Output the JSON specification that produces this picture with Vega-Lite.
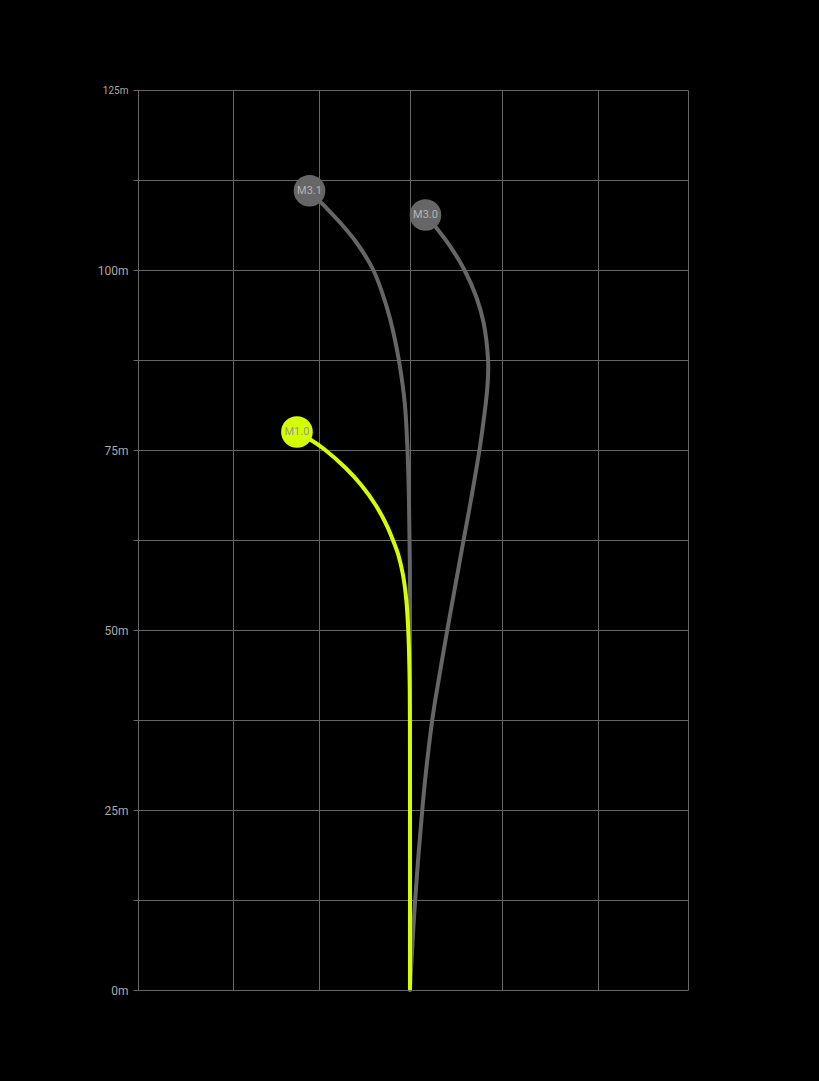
{
  "$schema": "https://vega.github.io/schema/vega-lite/v6.json",
  "width": 550,
  "height": 900,
  "autosize": {"type": "none"},
  "padding": {"left": 138, "top": 90, "right": 131, "bottom": 91},
  "background": "#000000",
  "config": {"view": {"stroke": null}},
  "datasets": {
    "paths": [
      {"club": "M3.1", "x": 0, "y": 0},
      {"club": "M3.1", "x": 0, "y": 50},
      {"club": "M3.1", "x": -0.002, "y": 59.72},
      {"club": "M3.1", "x": -0.011, "y": 68.06},
      {"club": "M3.1", "x": -0.027, "y": 75},
      {"club": "M3.1", "x": -0.057, "y": 81.53},
      {"club": "M3.1", "x": -0.109, "y": 86.53},
      {"club": "M3.1", "x": -0.18, "y": 91.25},
      {"club": "M3.1", "x": -0.267, "y": 95.42},
      {"club": "M3.1", "x": -0.4, "y": 100},
      {"club": "M3.1", "x": -0.58, "y": 103.75},
      {"club": "M3.1", "x": -0.758, "y": 106.53},
      {"club": "M3.1", "x": -0.944, "y": 109.03},
      {"club": "M3.1", "x": -1.096, "y": 111.0},
      {"club": "M3.0", "x": 0, "y": 0},
      {"club": "M3.0", "x": 0.055, "y": 12.22},
      {"club": "M3.0", "x": 0.134, "y": 25},
      {"club": "M3.0", "x": 0.185, "y": 31.53},
      {"club": "M3.0", "x": 0.243, "y": 37.5},
      {"club": "M3.0", "x": 0.276, "y": 40.28},
      {"club": "M3.0", "x": 0.407, "y": 50},
      {"club": "M3.0", "x": 0.472, "y": 54.58},
      {"club": "M3.0", "x": 0.585, "y": 62.5},
      {"club": "M3.0", "x": 0.671, "y": 68.47},
      {"club": "M3.0", "x": 0.758, "y": 75},
      {"club": "M3.0", "x": 0.814, "y": 80.14},
      {"club": "M3.0", "x": 0.842, "y": 83.33},
      {"club": "M3.0", "x": 0.853, "y": 85.83},
      {"club": "M3.0", "x": 0.85, "y": 87.92},
      {"club": "M3.0", "x": 0.804, "y": 92.64},
      {"club": "M3.0", "x": 0.724, "y": 96.25},
      {"club": "M3.0", "x": 0.594, "y": 100},
      {"club": "M3.0", "x": 0.444, "y": 103.19},
      {"club": "M3.0", "x": 0.306, "y": 105.56},
      {"club": "M3.0", "x": 0.169, "y": 107.64},
      {"club": "M1.0", "x": 0, "y": 0},
      {"club": "M1.0", "x": 0, "y": 33.33},
      {"club": "M1.0", "x": -0.004, "y": 43.06},
      {"club": "M1.0", "x": -0.019, "y": 50},
      {"club": "M1.0", "x": -0.04, "y": 54.17},
      {"club": "M1.0", "x": -0.076, "y": 57.64},
      {"club": "M1.0", "x": -0.127, "y": 60.42},
      {"club": "M1.0", "x": -0.182, "y": 62.36},
      {"club": "M1.0", "x": -0.255, "y": 64.58},
      {"club": "M1.0", "x": -0.375, "y": 67.36},
      {"club": "M1.0", "x": -0.532, "y": 70.14},
      {"club": "M1.0", "x": -0.702, "y": 72.5},
      {"club": "M1.0", "x": -0.938, "y": 75.14},
      {"club": "M1.0", "x": -1.08, "y": 76.39},
      {"club": "M1.0", "x": -1.233, "y": 77.5}
    ],
    "heads": [
      {"club": "M3.1", "x": -1.096, "y": 111.0},
      {"club": "M3.0", "x": 0.169, "y": 107.64},
      {"club": "M1.0", "x": -1.233, "y": 77.5}
    ]
  },
  "layer": [
    {
      "data": {"name": "paths"},
      "transform": [{"filter": "datum.club !== 'M1.0'"}],
      "mark": {"type": "line", "interpolate": "catmull-rom", "strokeWidth": 4, "color": "#666666", "strokeCap": "round"},
      "encoding": {
        "x": {
          "field": "x", "type": "quantitative",
          "scale": {"domain": [-2.967, 3.033], "nice": false, "zero": false},
          "axis": {"values": [-2.967, -1.931, -0.993, 0, 1.004, 2.051, 3.033], "grid": true, "gridColor": "#666666", "gridWidth": 1, "labels": false, "ticks": false, "domain": false, "title": null}
        },
        "y": {
          "field": "y", "type": "quantitative",
          "scale": {"domain": [0, 125], "nice": false},
          "axis": {
            "values": [0, 12.5, 25, 37.5, 50, 62.5, 75, 87.5, 100, 112.5, 125],
            "grid": true, "gridColor": "#666666", "gridWidth": 1,
            "ticks": true, "tickColor": "#666666", "tickSize": 5, "tickWidth": 1,
            "domain": false, "title": null,
            "labelExpr": "datum.value % 25 === 0 ? datum.value + 'm' : ''",
            "labelColor": "#a8a8a8", "labelFont": "Roboto",
            "labelFontSize": {"condition": {"test": "datum.value === 125", "value": 10}, "value": 12},
            "labelPadding": 5
          }
        },
        "detail": {"field": "club"},
        "order": {"field": "y", "type": "quantitative"}
      }
    },
    {
      "data": {"name": "heads"},
      "transform": [{"filter": "datum.club !== 'M1.0'"}],
      "mark": {"type": "circle", "size": 1000, "opacity": 1, "color": "#666666"},
      "encoding": {
        "x": {"field": "x", "type": "quantitative"},
        "y": {"field": "y", "type": "quantitative"}
      }
    },
    {
      "data": {"name": "heads"},
      "transform": [{"filter": "datum.club !== 'M1.0'"}],
      "mark": {"type": "text", "fontSize": 11, "color": "#b4b4b4", "font": "Roboto", "baseline": "middle", "align": "center"},
      "encoding": {
        "x": {"field": "x", "type": "quantitative"},
        "y": {"field": "y", "type": "quantitative"},
        "text": {"field": "club"}
      }
    },
    {
      "data": {"name": "paths"},
      "transform": [{"filter": "datum.club === 'M1.0'"}],
      "mark": {"type": "line", "interpolate": "catmull-rom", "strokeWidth": 4, "color": "#d4ff00", "strokeCap": "butt"},
      "encoding": {
        "x": {"field": "x", "type": "quantitative"},
        "y": {"field": "y", "type": "quantitative"},
        "order": {"field": "y", "type": "quantitative"}
      }
    },
    {
      "data": {"name": "heads"},
      "transform": [{"filter": "datum.club === 'M1.0'"}],
      "mark": {"type": "circle", "size": 1000, "opacity": 1, "color": "#d4ff00"},
      "encoding": {
        "x": {"field": "x", "type": "quantitative"},
        "y": {"field": "y", "type": "quantitative"}
      }
    },
    {
      "data": {"name": "heads"},
      "transform": [{"filter": "datum.club === 'M1.0'"}],
      "mark": {"type": "text", "fontSize": 11, "color": "#9a9a9a", "font": "Roboto", "baseline": "middle", "align": "center"},
      "encoding": {
        "x": {"field": "x", "type": "quantitative"},
        "y": {"field": "y", "type": "quantitative"},
        "text": {"field": "club"}
      }
    }
  ]
}
